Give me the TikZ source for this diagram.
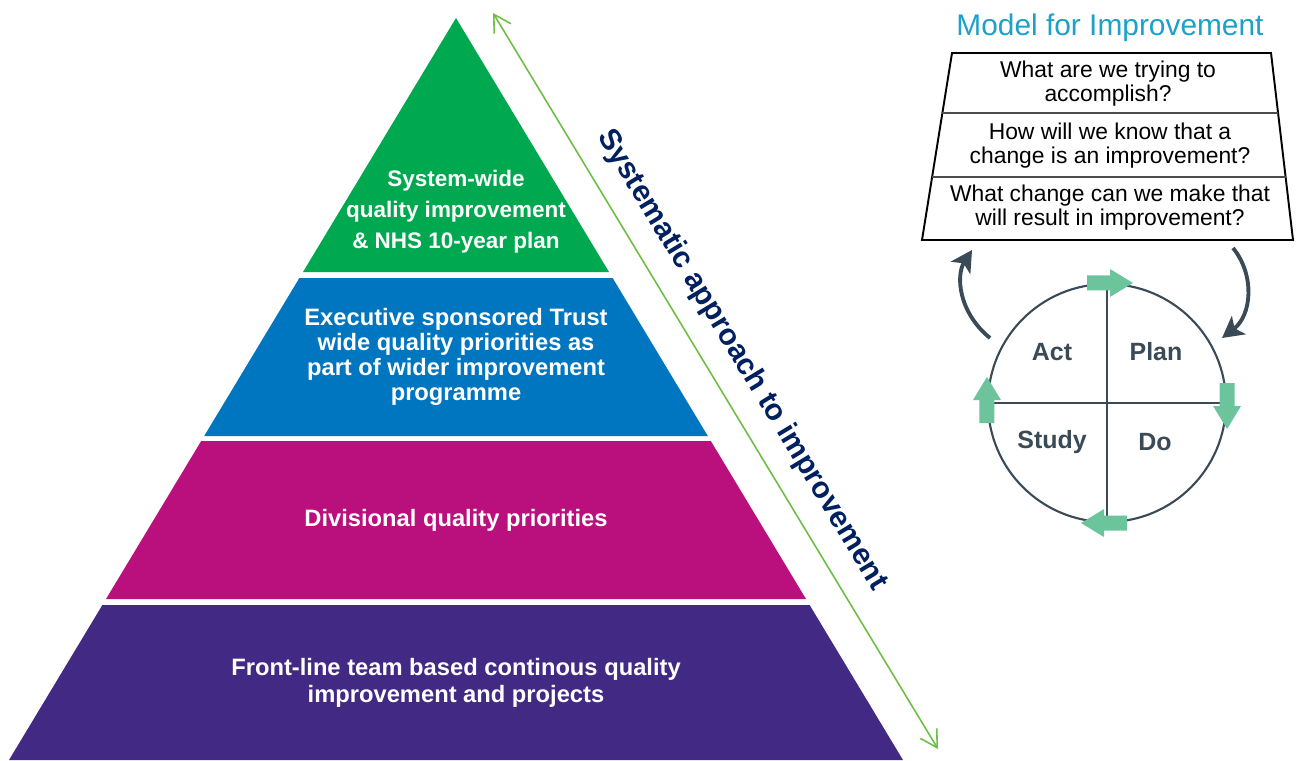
\documentclass[tikz,border=0pt]{standalone}
\usepackage{fontspec}
\setmainfont{Liberation Sans}
\usetikzlibrary{arrows.meta,calc,positioning}
\definecolor{tiergreen}{RGB}{0,169,79}
\definecolor{tierblue}{RGB}{0,118,192}
\definecolor{tiermagenta}{RGB}{185,16,125}
\definecolor{tierpurple}{RGB}{66,42,132}
\definecolor{sysgreen}{RGB}{109,190,69}
\definecolor{sysnavy}{RGB}{0,32,96}
\definecolor{mfiblue}{RGB}{29,161,201}
\definecolor{slate}{RGB}{58,74,86}
\definecolor{mint}{RGB}{108,196,156}
\newcommand\band[3]{\fill[#1] ({456-(#2-18)*0.6024},#2) -- ({456+(#2-18)*0.6024},#2)
  -- ({456+(#3-18)*0.6024},#3) -- ({456-(#3-18)*0.6024},#3) -- cycle;}
\newcommand\turn[2]{\fill[mint,shift={#1},rotate=#2] (-20,-7.5) -- (3,-7.5) -- (3,-14)
  -- (26,0) -- (3,14) -- (3,7.5) -- (-20,7.5) -- cycle;}

\begin{document}
\begin{tikzpicture}[x=0.02cm,y=-0.02cm,node distance=1cm,on grid,
    tier/.style={text=white,font=\bfseries,align=center},
    question/.style={align=center,font=\fontsize{13}{13.6}\selectfont},
    phase/.style={text=slate,font=\fontsize{14.2}{16}\selectfont\bfseries},
    sys arrow/.style={sysgreen,line width=0.9pt,
      {Straight Barb[length=9.5pt,width=11pt]}-{Straight Barb[length=9.5pt,width=11pt]}},
    cycle arrow/.style={draw=slate,line width=2.2pt,-{Stealth[length=12pt,width=13pt,inset=3pt]}}]
   \useasboundingbox (0,0) rectangle (1297,760);
   % pyramid
   \band{tiergreen}{18}{272}
   \band{tierblue}{278}{436}
   \band{tiermagenta}{441}{599}
   \band{tierpurple}{605}{760}
   \node[tier,font=\fontsize{12.8}{17.6}\selectfont\bfseries] (sys)   at (456,212)
      {System-wide\\quality improvement\\\& NHS 10-year plan};
   \node[tier,font=\fontsize{13.5}{14.2}\selectfont\bfseries] (exec)  at (456,357)
      {Executive sponsored Trust\\wide quality priorities as\\part of wider improvement\\programme};
   \node[tier,font=\fontsize{13.5}{15}\selectfont\bfseries] (div)   at (456,520)
      {Divisional quality priorities};
   \node[tier,font=\fontsize{13.5}{15.3}\selectfont\bfseries] (front) at (456,683)
      {Front-line team based continous quality\\improvement and projects};
   \coordinate (apex) at (493,13);
   \coordinate (base) at (938,749);
   \draw[sys arrow] (apex) -- (base);
   \node[rotate=-58.8,text=sysnavy,font=\fontsize{17}{20}\selectfont\bfseries] (approach) at (742,360)
      {Systematic approach to improvement};
   % model for improvement
   \node[text=mfiblue,font=\fontsize{17}{20}\selectfont] (title) at (1110,28) {Model for Improvement};
   \coordinate (tl) at (952,53);
   \coordinate (tr) at (1271,53);
   \coordinate (br) at (1293,240);
   \coordinate (bl) at (922,240);
   \draw[line width=1.1pt,fill=white] (tl) -- (tr) -- (br) -- (bl) -- cycle;
   \draw[black!70,line width=0.7pt] ($(tl)!0.321!(bl)$) -- ($(tr)!0.321!(br)$);
   \draw[black!70,line width=0.7pt] ($(tl)!0.663!(bl)$) -- ($(tr)!0.663!(br)$);
   \node[question] (aim)     at (1108,84)  {What are we trying to\\accomplish?};
   \node[question] (measure) at (1110,146) {How will we know that a\\change is an improvement?};
   \node[question] (change)  at (1110,208) {What change can we make that\\will result in improvement?};
   % PDSA cycle
   \node[circle,draw=slate,line width=1.2pt,minimum size=4.76cm,inner sep=0pt] (pdsa) at (1107,403) {};
   \draw[slate,line width=1.2pt] (pdsa.north) -- (pdsa.south);
   \draw[slate,line width=1.2pt] (pdsa.west) -- (pdsa.east);
   \node[phase] (act)   [above left=1.02cm and 1.1cm of pdsa]   {Act};
   \node[phase] (plan)  [above right=1.02cm and 0.98cm of pdsa] {Plan};
   \node[phase] (study) [below left=0.78cm and 1.1cm of pdsa]   {Study};
   \node[phase] (do)    [below right=0.78cm and 0.96cm of pdsa] {Do};
   \turn{(pdsa.north)}{0}
   \turn{(pdsa.east)}{-90}
   \turn{(pdsa.south)}{180}
   \turn{(pdsa.west)}{90}
   \coordinate (actfrom)  at (990,338);
   \coordinate (actto)    at (972,250);
   \coordinate (planfrom) at (1233,248);
   \coordinate (planto)   at (1222,338);
   \draw[cycle arrow] (actfrom) .. controls (958,312) and (956,275) .. (actto);
   \draw[cycle arrow] (planfrom) .. controls (1255,275) and (1252,315) .. (planto);
\end{tikzpicture}
\end{document}
